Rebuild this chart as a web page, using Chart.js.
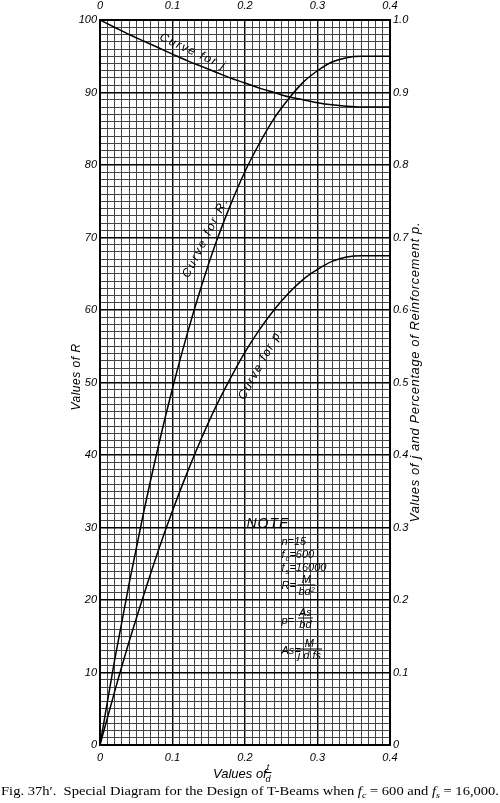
<!DOCTYPE html>
<html>
<head>
<meta charset="utf-8">
<script src="https://cdn.jsdelivr.net/npm/chart.js@4/dist/chart.umd.min.js"></script>
<style>
  html, body { margin: 0; padding: 0; background: #fff; }
  canvas { display: block; }
</style>
</head>
<body>
<canvas id="chart" width="500" height="803"></canvas>
<script>
// values of t/d along the bottom
const tOverD = [0, 0.02, 0.04, 0.06, 0.08, 0.10, 0.12, 0.14, 0.16, 0.18, 0.20,
                0.22, 0.24, 0.26, 0.28, 0.30, 0.32, 0.34, 0.36, 0.38, 0.40];
// curve for R (left scale)
const valuesR = [0, 11.6, 22.2, 32.0, 41.0, 49.2, 56.6, 63.3, 69.3, 74.5, 79.1,
                 83.0, 86.4, 89.1, 91.4, 93.0, 94.2, 94.8, 95.0, 95.0, 95.0];
// curve for j (right scale)
const valuesJ = [1.000, 0.990, 0.980, 0.971, 0.962, 0.953, 0.944, 0.936, 0.928, 0.920, 0.913,
                 0.906, 0.900, 0.894, 0.890, 0.886, 0.883, 0.881, 0.880, 0.880, 0.880];
// curve for p, percentage of reinforcement (right scale)
const valuesP = [0, 0.073, 0.142, 0.206, 0.267, 0.323, 0.375, 0.423, 0.467, 0.506, 0.542,
                 0.573, 0.600, 0.623, 0.642, 0.656, 0.667, 0.673, 0.675, 0.675, 0.675];

const xLabels = ["0", "0.1", "0.2", "0.3", "0.4"];
const leftLabels = ["0", "10", "20", "30", "40", "50", "60", "70", "80", "90", "100"];
const rightLabels = ["0", "0.1", "0.2", "0.3", "0.4", "0.5", "0.6", "0.7", "0.8", "0.9", "1.0"];

const HAND = "'Liberation Sans', sans-serif";
const tickFont = { family: HAND, size: 11, style: "italic" };

function pts(ys) {
    return tOverD.map((t, i) => ({ x: t, y: ys[i] }));
}

function gridColor(ctx) {
    return ctx.tick && ctx.tick.major10 ? "#000" : "#444";
}

function isTenth(v, per) {
    return Math.round(v * per) % 10 === 0;
}

function drawText(ctx, text, x, y, angle, font, align, spacing) {
    ctx.save();
    ctx.translate(x, y);
    ctx.rotate(angle * Math.PI / 180);
    ctx.font = font;
    ctx.textAlign = align || "center";
    ctx.textBaseline = "alphabetic";
    ctx.letterSpacing = (spacing || 0) + "px";
    ctx.fillStyle = "#000";
    ctx.fillText(text, 0, 0);
    ctx.restore();
}

function frac(ctx, top, bottom, cx, yBar, font) {
    ctx.font = font;
    const w = Math.max(ctx.measureText(top).width, ctx.measureText(bottom).width) + 2;
    ctx.fillStyle = "#000";
    ctx.textAlign = "center";
    ctx.fillText(top, cx, yBar - 2);
    ctx.fillText(bottom, cx, yBar + 10);
    ctx.beginPath();
    ctx.moveTo(cx - w / 2, yBar + 0.5);
    ctx.lineTo(cx + w / 2, yBar + 0.5);
    ctx.lineWidth = 1;
    ctx.strokeStyle = "#000";
    ctx.stroke();
}

const annotations = {
    id: "annotations",
    afterDraw(chart) {
        const ctx = chart.ctx;
        const { x, y, y2 } = chart.scales;
        const f12 = "italic 12px " + HAND;
        const f11 = "italic 11px " + HAND;

        // curve labels
        drawText(ctx, "Curve for j", x.getPixelForValue(0.126), y2.getPixelForValue(0.952), 25, f12, "center", 1.5);
        drawText(ctx, "Curve for R.", x.getPixelForValue(0.150), y.getPixelForValue(69.8), -63, f12, "center", 2);
        drawText(ctx, "Curve for p.", x.getPixelForValue(0.226), y2.getPixelForValue(0.524), -61, f12, "center", 1.5);

        // axis titles
        drawText(ctx, "Values of R", 80, 377, -90, f12, "center", 0.5);
        drawText(ctx, "Values of j and Percentage of Reinforcement p.", 419, 372, -90, "italic 13px " + HAND, "center", 0.6);

        // bottom title: Values of t/d
        ctx.save();
        ctx.font = "italic 13px " + HAND;
        ctx.fillStyle = "#000";
        ctx.textAlign = "left";
        ctx.fillText("Values of", 213, 778);
        ctx.restore();
        ctx.save();
        frac(ctx, "t", "d", 268, 772, "italic 9px " + HAND);
        ctx.restore();

        // note block
        const nx = x.getPixelForValue(0.202);
        const ny = y.getPixelForValue(30.0);
        ctx.save();
        ctx.fillStyle = "#000";
        ctx.textAlign = "left";
        ctx.font = "italic 14px " + HAND;
        ctx.letterSpacing = "1px";
        ctx.fillText("NOTE", nx, ny);
        ctx.letterSpacing = "0px";
        const lx = nx + 35;
        ctx.font = f11;
        ctx.fillText("n=15", lx, ny + 17);
        ctx.fillText("f", lx, ny + 30);
        ctx.font = "italic 8px " + HAND;
        ctx.fillText("c", lx + 4, ny + 33);
        ctx.font = f11;
        ctx.fillText("=600", lx + 8, ny + 30);
        ctx.fillText("f", lx, ny + 43);
        ctx.font = "italic 8px " + HAND;
        ctx.fillText("s", lx + 4, ny + 46);
        ctx.font = f11;
        ctx.fillText("=16000", lx + 8, ny + 43);
        ctx.fillText("R=", lx, ny + 61);
        frac(ctx, "M", "bd\u00b2", lx + 25, ny + 57, f11);
        ctx.textAlign = "left";
        ctx.font = f11;
        ctx.fillText("p=", lx, ny + 96);
        frac(ctx, "As", "bd", lx + 24, ny + 90, f11);
        ctx.textAlign = "left";
        ctx.font = f11;
        ctx.fillText("As=", lx, ny + 126);
        frac(ctx, "M", "j d fs", lx + 28, ny + 121, f11);
        ctx.restore();

        // caption
        const cy = 795;
        const serif = "'Liberation Serif', 'DejaVu Serif', serif";
        const parts = [
            { t: "Fig. 37h\u2032.  Special Diagram for the Design of T-Beams when ", f: "13px " + serif },
            { t: "f", f: "italic 13px " + serif },
            { t: "c", f: "italic 9px " + serif, sub: true },
            { t: " = 600 and ", f: "13px " + serif },
            { t: "f", f: "italic 13px " + serif },
            { t: "s", f: "italic 9px " + serif, sub: true },
            { t: " = 16,000.", f: "13px " + serif }
        ];
        ctx.save();
        ctx.textAlign = "left";
        ctx.fillStyle = "#000";
        let total = 0;
        parts.forEach(p => { ctx.font = p.f; total += ctx.measureText(p.t).width; });
        const sx = 498 / total;
        ctx.translate(1, cy);
        ctx.scale(sx, 1);
        let cx = 0;
        parts.forEach(p => {
            ctx.font = p.f;
            ctx.fillText(p.t, cx, p.sub ? 3 : 0);
            cx += ctx.measureText(p.t).width;
        });
        ctx.restore();
    }
};

const lineStyle = {
    borderColor: "#000",
    borderWidth: 1.5,
    pointRadius: 0,
    fill: false,
    cubicInterpolationMode: "monotone"
};

new Chart(document.getElementById("chart").getContext("2d"), {
    type: "line",
    data: {
        datasets: [
            Object.assign({ label: "R", data: pts(valuesR), yAxisID: "y" }, lineStyle),
            Object.assign({ label: "j", data: pts(valuesJ), yAxisID: "y2" }, lineStyle),
            Object.assign({ label: "p", data: pts(valuesP), yAxisID: "y2" }, lineStyle)
        ]
    },
    options: {
        responsive: false,
        animation: false,
        devicePixelRatio: 1,
        layout: { padding: 0 },
        plugins: { legend: { display: false }, tooltip: { enabled: false } },
        scales: {
            x: {
                type: "linear", position: "bottom", min: 0, max: 0.4,
                afterFit: s => { s.height = 58; },
                afterBuildTicks: s => { s.ticks.forEach(t => { t.major10 = isTenth(t.value, 100); }); },
                ticks: {
                    stepSize: 0.01, autoSkip: false, maxRotation: 0, padding: 6,
                    color: "#000", font: tickFont,
                    callback: v => isTenth(v, 100) ? xLabels[Math.round(v * 10)] : ""
                },
                grid: {
                    drawTicks: false,
                    color: gridColor,
                    lineWidth: ctx => ctx.tick && ctx.tick.major10 ? 1.4 : 1
                },
                border: { color: "#000", width: 2 }
            },
            x2: {
                type: "linear", position: "top", min: 0, max: 0.4,
                afterFit: s => { s.height = 20; },
                ticks: {
                    stepSize: 0.01, autoSkip: false, maxRotation: 0, padding: 7,
                    color: "#000", font: tickFont,
                    callback: v => isTenth(v, 100) ? xLabels[Math.round(v * 10)] : ""
                },
                grid: { display: false, drawTicks: false },
                border: { color: "#000", width: 2 }
            },
            y: {
                type: "linear", position: "left", min: 0, max: 100,
                afterFit: s => { s.width = 100; },
                afterBuildTicks: s => { s.ticks.forEach(t => { t.major10 = isTenth(t.value, 1); }); },
                ticks: {
                    stepSize: 1, autoSkip: false, padding: 3,
                    color: "#000", font: tickFont,
                    callback: v => isTenth(v, 1) ? leftLabels[Math.round(v / 10)] : ""
                },
                grid: {
                    drawTicks: false,
                    color: gridColor,
                    lineWidth: ctx => ctx.tick && ctx.tick.major10 ? 1.4 : 1
                },
                border: { color: "#000", width: 2 }
            },
            y2: {
                type: "linear", position: "right", min: 0, max: 1,
                afterFit: s => { s.width = 110; },
                ticks: {
                    stepSize: 0.01, autoSkip: false, padding: 3,
                    color: "#000", font: tickFont,
                    callback: v => isTenth(v, 100) ? rightLabels[Math.round(v * 10)] : ""
                },
                grid: { display: false, drawTicks: false },
                border: { color: "#000", width: 2 }
            }
        }
    },
    plugins: [annotations]
});
</script>
</body>
</html>
